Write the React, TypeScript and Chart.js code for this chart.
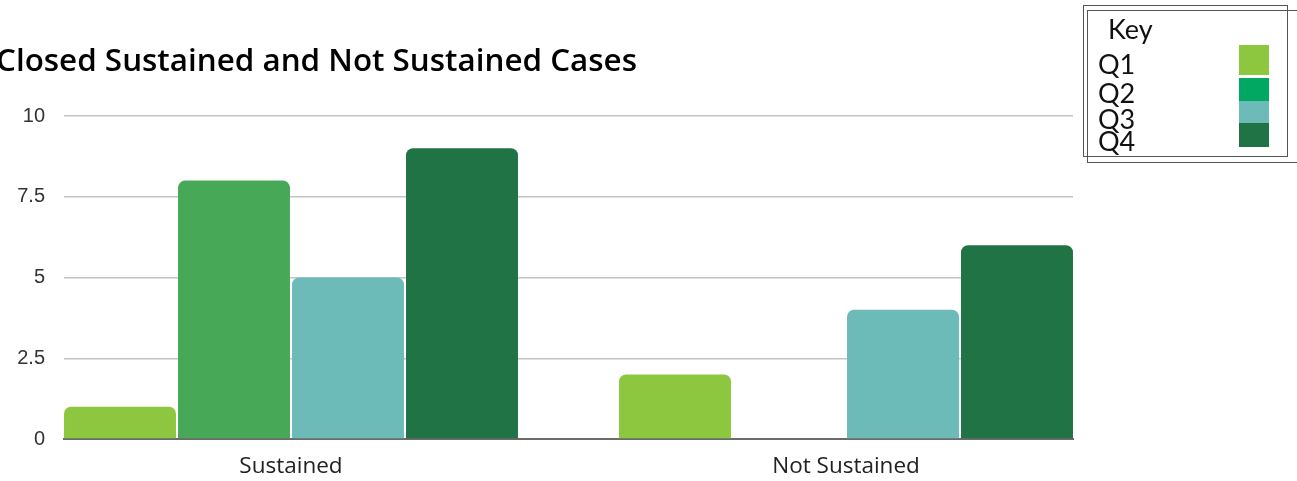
import React, { useEffect, useRef } from "react";
import { Chart, registerables } from "chart.js";

Chart.register(...registerables);

const categories = ["Sustained", "Not Sustained"];
const quarters = ["Q1", "Q2", "Q3", "Q4"];
const q1Values = [1, 2];
const q2Values = [8, 0];
const q3Values = [5, 4];
const q4Values = [9, 6];
const yTicks = [0, 2.5, 5, 7.5, 10];

const barColors = ["#8DC63F", "#47A858", "#6CBBB8", "#1F7344"];
const keyColors = ["#8DC63F", "#00A862", "#6CBBB8", "#1F7344"];

export default function App() {
  const canvasRef = useRef<HTMLCanvasElement | null>(null);

  useEffect(() => {
    const canvas = canvasRef.current;
    if (!canvas) return;
    const series = [q1Values, q2Values, q3Values, q4Values];
    const chart = new Chart(canvas, {
      type: "bar",
      data: {
        datasets: series.map((vals, i) => ({
          label: quarters[i],
          data: vals.map((v, idx) => ({ x: idx, y: v })),
          backgroundColor: barColors[i],
          borderWidth: 0,
          borderRadius: { topLeft: 7, topRight: 7, bottomLeft: 0, bottomRight: 0 },
          borderSkipped: "start",
          categoryPercentage: 0.8216,
          barPercentage: 0.982,
        })),
      },
      options: {
        animation: false,
        responsive: false,
        layout: { padding: { top: 116, right: 224, left: 0, bottom: 0 } },
        plugins: {
          legend: { display: false },
          tooltip: { enabled: false },
          title: { display: false },
        },
        scales: {
          x: {
            type: "linear",
            offset: false,
            min: -0.409,
            max: 1.409,
            afterBuildTicks: (scale: any) => {
              scale.ticks = categories.map((_, i) => ({ value: i }));
            },
            afterFit: (scale: any) => {
              scale.height = 42;
            },
            ticks: {
              callback: (v: any) => String(categories[Number(v)] ?? ""),
              font: { family: "Open Sans", size: 22.5 },
              color: "#222222",
              padding: 14,
              maxRotation: 0,
            },
            grid: { display: false, drawTicks: false },
            border: { display: true, color: "#6B6B6B", width: 2 },
          },
          y: {
            min: 0,
            max: 10,
            afterBuildTicks: (scale: any) => {
              scale.ticks = yTicks.map((v) => ({ value: v }));
            },
            afterFit: (scale: any) => {
              scale.width = 64;
            },
            ticks: {
              callback: (v: any) => String(v),
              font: { family: "Liberation Sans", size: 20 },
              color: "#333333",
              padding: 19,
            },
            grid: { color: "#C4C4C4", lineWidth: 1.5, drawTicks: false },
            border: { display: false },
          },
        },
      },
    });
    return () => chart.destroy();
  }, []);

  const keyRows = [
    { top: 63, sw: [45, 75] },
    { top: 92, sw: [78, 101] },
    { top: 118, sw: [101, 123] },
    { top: 140, sw: [123, 147] },
  ];

  return (
    <div
      style={{
        position: "absolute",
        left: 0,
        top: 0,
        width: 1297,
        height: 481,
        overflow: "hidden",
        background: "#ffffff",
      }}
    >
      <canvas ref={canvasRef} width={1297} height={481} style={{ position: "absolute", left: 0, top: 0 }} />
      <div
        style={{
          position: "absolute",
          left: -4,
          top: 39,
          fontFamily: "Open Sans",
          fontWeight: 600,
          fontSize: 31.4,
          lineHeight: "40px",
          color: "#000000",
          whiteSpace: "nowrap",
        }}
      >
        Closed Sustained and Not Sustained Cases
      </div>
      <div
        style={{
          position: "absolute",
          left: 1083,
          top: 5,
          width: 205,
          height: 152,
          border: "1.5px solid #555555",
          boxSizing: "border-box",
        }}
      />
      <div
        style={{
          position: "absolute",
          left: 1087,
          top: 10,
          width: 212,
          height: 153,
          border: "1.5px solid #555555",
          boxSizing: "border-box",
        }}
      />
      <div
        style={{
          position: "absolute",
          left: 1108,
          top: 28,
          transform: "translateY(-50%)",
          fontFamily: "Lato",
          fontSize: 27,
          color: "#111111",
        }}
      >
        Key
      </div>
      {quarters.map((q, i) => (
        <React.Fragment key={q}>
          <div
            style={{
              position: "absolute",
              left: 1098,
              top: keyRows[i].top,
              transform: "translateY(-50%)",
              fontFamily: "Lato",
              fontSize: 27,
              lineHeight: "27px",
              color: "#111111",
            }}
          >
            {q}
          </div>
          <div
            style={{
              position: "absolute",
              left: 1239,
              top: keyRows[i].sw[0],
              width: 30,
              height: keyRows[i].sw[1] - keyRows[i].sw[0],
              background: keyColors[i],
            }}
          />
        </React.Fragment>
      ))}
    </div>
  );
}
